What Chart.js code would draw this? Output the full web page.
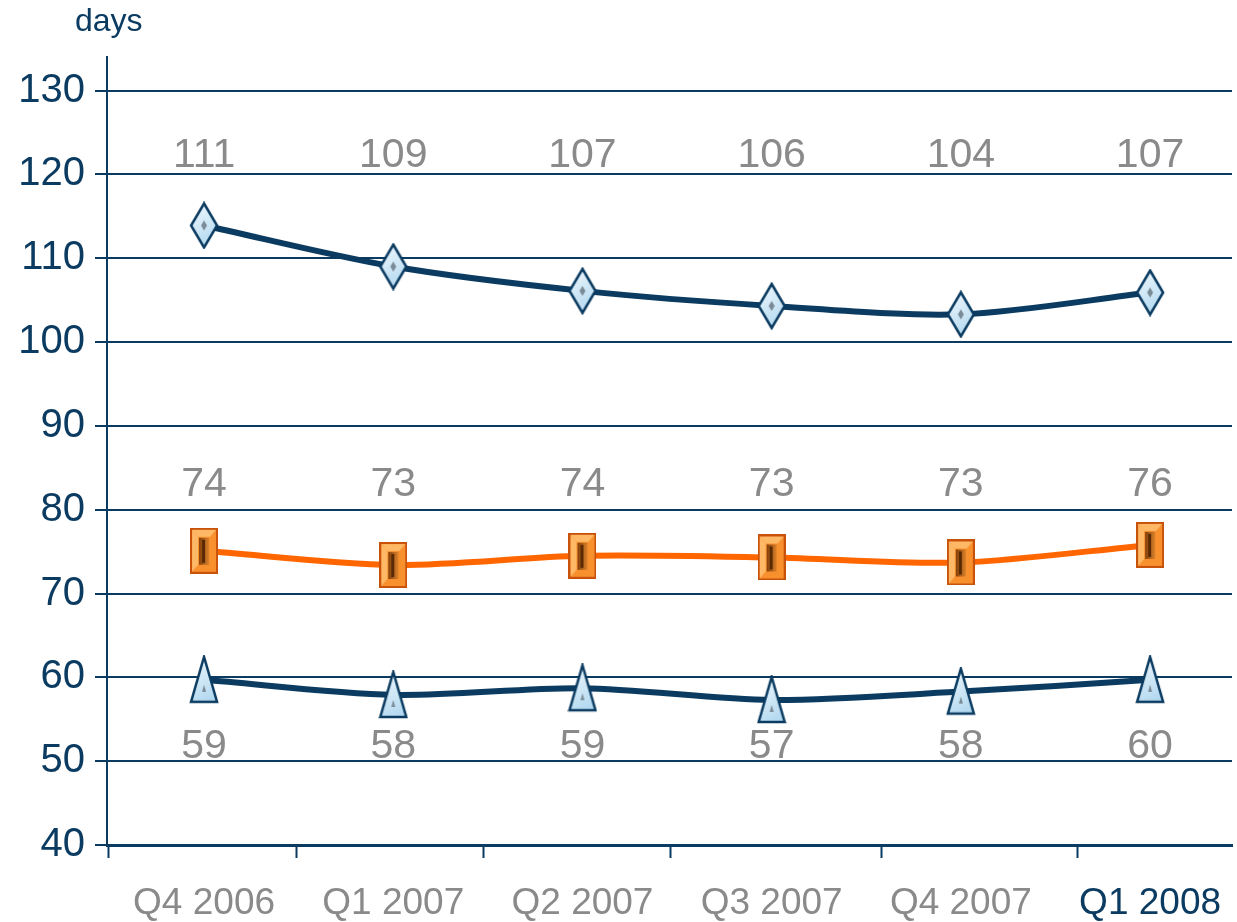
<!DOCTYPE html>
<html>
<head>
<meta charset="utf-8">
<script src="https://cdn.jsdelivr.net/npm/chart.js@4.4.0/dist/chart.umd.min.js"></script>
<style>
  html, body { margin: 0; padding: 0; background: #fff; }
  #wrap { width: 1237px; height: 922px; }
</style>
</head>
<body>
<div id="wrap"><canvas id="myChart" width="1237" height="922"></canvas></div>
<script>
// quarters on the x axis
var quarters = ['Q4 2006', 'Q1 2007', 'Q2 2007', 'Q3 2007', 'Q4 2007', 'Q1 2008'];

// where the markers sit
var seriesTop = [113.9, 109.0, 106.1, 104.3, 103.3, 105.9];
var seriesMid = [75.1, 73.4, 74.5, 74.3, 73.7, 75.8];
var seriesLow = [59.7, 57.9, 58.7, 57.3, 58.3, 59.7];

// the numbers printed next to them
var labelsTop = [111, 109, 107, 106, 104, 107];
var labelsMid = [74, 73, 74, 73, 73, 76];
var labelsLow = [59, 58, 59, 57, 58, 60];

var yTicks = [40, 50, 60, 70, 80, 90, 100, 110, 120, 130];

var navy = '#0b3b60';
var grey = '#8a8a8a';
var orange = '#ff6600';

// marker images
function diamond() {
  var c = document.createElement('canvas');
  c.width = 30; c.height = 48;
  var g = c.getContext('2d');
  var gr = g.createLinearGradient(0, 0, 30, 48);
  gr.addColorStop(0, '#f5fbfe');
  gr.addColorStop(1, '#a8d3ee');
  g.beginPath();
  g.moveTo(15, 2); g.lineTo(28, 24); g.lineTo(15, 46); g.lineTo(2, 24); g.closePath();
  g.fillStyle = gr; g.fill();
  g.lineWidth = 2.5; g.strokeStyle = navy; g.stroke();
  g.beginPath();
  g.moveTo(15, 19); g.lineTo(18, 24); g.lineTo(15, 29); g.lineTo(12, 24); g.closePath();
  g.fillStyle = '#7a8a96'; g.fill();
  return c;
}

function triangle() {
  var c = document.createElement('canvas');
  c.width = 30; c.height = 50;
  var g = c.getContext('2d');
  var gr = g.createLinearGradient(0, 0, 30, 50);
  gr.addColorStop(0, '#f5fbfe');
  gr.addColorStop(1, '#a8d3ee');
  g.beginPath();
  g.moveTo(15, 2); g.lineTo(28, 47); g.lineTo(2, 47); g.closePath();
  g.fillStyle = gr; g.fill();
  g.lineWidth = 2.5; g.strokeStyle = navy; g.stroke();
  g.beginPath();
  g.moveTo(15, 30); g.lineTo(17, 37); g.lineTo(13, 37); g.closePath();
  g.fillStyle = '#7a8a96'; g.fill();
  return c;
}

function brick() {
  var c = document.createElement('canvas');
  c.width = 28; c.height = 46;
  var g = c.getContext('2d');
  g.fillStyle = '#c9520a'; g.fillRect(0, 0, 28, 46);
  g.fillStyle = '#f8902e'; g.fillRect(2, 2, 24, 42);
  // light bevel on top / left
  g.fillStyle = '#ffb865';
  g.beginPath(); g.moveTo(2, 2); g.lineTo(26, 2); g.lineTo(20, 9); g.lineTo(8, 9); g.closePath(); g.fill();
  g.beginPath(); g.moveTo(2, 2); g.lineTo(8, 9); g.lineTo(8, 37); g.lineTo(2, 44); g.closePath(); g.fill();
  // inner bar
  var gr = g.createLinearGradient(8, 0, 20, 0);
  gr.addColorStop(0, '#7a3a08');
  gr.addColorStop(1, '#e3882e');
  g.fillStyle = gr; g.fillRect(9, 10, 10, 27);
  g.fillStyle = '#5a2a05'; g.fillRect(12, 12, 3, 23);
  return c;
}

// numbers printed over / under each series
var valueText = {
  id: 'valueText',
  afterDatasetsDraw: function(chart) {
    var c = chart.ctx;
    var ys = chart.scales.y;
    c.save();
    c.font = '41px "Liberation Sans", Arial, sans-serif';
    c.fillStyle = grey;
    c.textAlign = 'center';
    c.textBaseline = 'middle';
    chart.data.datasets.forEach(function(ds, i) {
      var meta = chart.getDatasetMeta(i);
      meta.data.forEach(function(pt, j) {
        c.fillText(String(ds.printed[j]), pt.x, ys.getPixelForValue(ds.printedAt));
      });
    });
    // unit above the value axis
    c.font = '32px "Liberation Sans", Arial, sans-serif';
    c.fillStyle = navy;
    c.textAlign = 'left';
    c.fillText('days', 75, 22);
    c.restore();
  }
};

var tickMarks = [-0.507, 0.49, 1.475, 2.463, 3.583, 4.614];

var ctx = document.getElementById('myChart');
var myChart = new Chart(ctx, {
  type: 'line',
  data: {
    datasets: [{
      label: 'top',
      data: seriesTop.map(function(v, i) { return {x: i, y: v}; }),
      printed: labelsTop,
      printedAt: 122.2,
      borderColor: navy,
      borderWidth: 6,
      tension: 0.3,
      pointStyle: diamond(),
      pointRadius: 15
    }, {
      label: 'mid',
      data: seriesMid.map(function(v, i) { return {x: i, y: v}; }),
      printed: labelsMid,
      printedAt: 83.0,
      borderColor: orange,
      borderWidth: 6,
      tension: 0.3,
      pointStyle: brick(),
      pointRadius: 15
    }, {
      label: 'low',
      data: seriesLow.map(function(v, i) { return {x: i, y: v}; }),
      printed: labelsLow,
      printedAt: 51.7,
      borderColor: navy,
      borderWidth: 6,
      tension: 0.3,
      pointStyle: triangle(),
      pointRadius: 15
    }]
  },
  options: {
    responsive: false,
    animation: false,
    layout: { autoPadding: false, padding: { left: 20, right: 5, top: 57, bottom: 0 } },
    plugins: {
      legend: { display: false },
      tooltip: { enabled: false }
    },
    scales: {
      x: {
        type: 'linear',
        min: -0.513,
        max: 5.433,
        afterBuildTicks: function(ax) {
          var t = tickMarks.map(function(v) { return {value: v}; });
          quarters.forEach(function(q, i) { t.push({value: i}); });
          t.sort(function(a, b) { return a.value - b.value; });
          ax.ticks = t;
        },
        afterFit: function(ax) {
          ax.height = 77;
        },
        border: { display: true, color: navy, width: 3 },
        grid: {
          drawOnChartArea: false,
          drawTicks: true,
          tickLength: 13,
          tickWidth: 2,
          tickColor: function(c) {
            return Number.isInteger(c.tick.value) ? 'rgba(0,0,0,0)' : navy;
          }
        },
        ticks: {
          autoSkip: false,
          maxRotation: 0,
          padding: 0,
          font: { family: '"Liberation Sans", Arial, sans-serif', size: 37, lineHeight: 2.5 },
          color: function(c) {
            return c.tick && c.tick.value === quarters.length - 1 ? navy : grey;
          },
          callback: function(v) {
            return Number.isInteger(v) ? quarters[v] : '';
          }
        }
      },
      y: {
        min: 40,
        max: 134,
        afterBuildTicks: function(ax) {
          ax.ticks = yTicks.map(function(v) { return {value: v}; });
        },
        afterFit: function(ax) {
          ax.width = 87;
        },
        border: { display: true, color: navy, width: 2 },
        grid: {
          color: navy,
          lineWidth: 2,
          tickLength: 12
        },
        ticks: {
          padding: 10,
          font: { family: '"Liberation Sans", Arial, sans-serif', size: 40 },
          color: navy
        }
      }
    }
  },
  plugins: [valueText]
});
</script>
</body>
</html>
